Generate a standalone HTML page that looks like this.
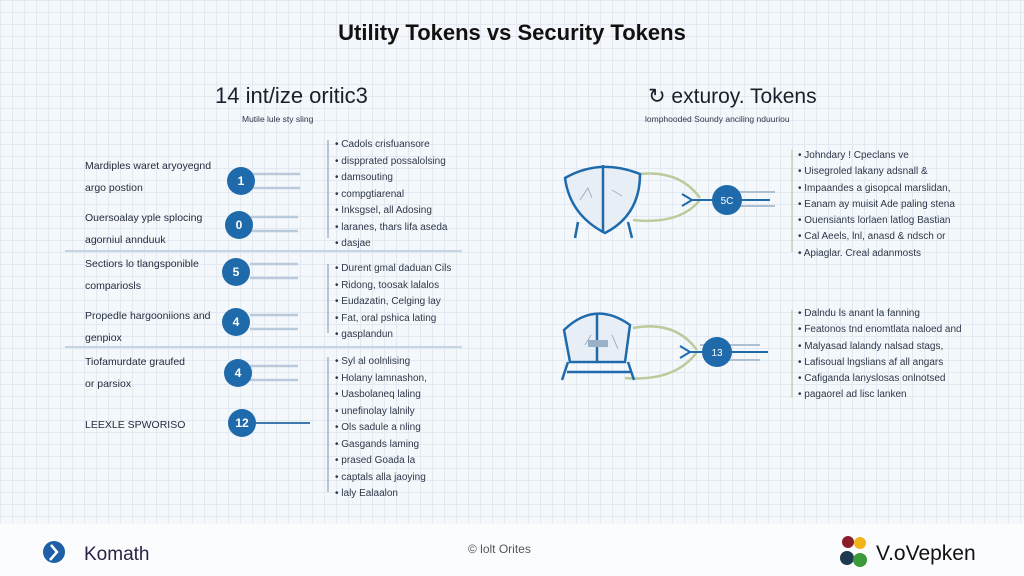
<!DOCTYPE html>
<html><head><meta charset="utf-8"><style>
*{margin:0;padding:0;box-sizing:border-box}
body{width:1024px;height:576px;overflow:hidden;font-family:"Liberation Sans",sans-serif;position:relative;
background-color:#f5f8fb;
background-image:linear-gradient(#e2e9f2 1px,transparent 1px),linear-gradient(90deg,#e2e9f2 1px,transparent 1px);
background-size:12px 12px}
.t{position:absolute;white-space:nowrap;color:#2a3140}
.s{font-size:10px;color:#2f3848}
.lab{font-size:10.5px;color:#242c3c;line-height:22px}
.foot{position:absolute;left:0;top:524px;width:1024px;height:52px;background:#fbfcfe}
</style></head><body>
<div class="t" style="left:0;width:1024px;text-align:center;top:20px;font-size:22px;font-weight:bold;color:#111">Utility Tokens vs Security Tokens</div>

<div class="t" style="left:215px;top:83px;font-size:22px;color:#1a1f2a">14 int/ize oritic3</div>
<div class="t s" style="left:242px;top:114px;font-size:8.5px">Mutile lule sty sling</div>

<div class="t" style="left:648px;top:84px;font-size:21px;color:#1a1f2a">&#x21BB; exturoy. Tokens</div>
<div class="t s" style="left:645px;top:114px;font-size:8.5px">lomphooded Soundy anciling nduuriou</div>

<div class="t lab" style="left:85px;top:155px">Mardiples waret aryoyegnd<br>argo postion</div>
<div class="t lab" style="left:85px;top:207px">Ouersoalay yple splocing<br>agorniul annduuk</div>
<div class="t lab" style="left:85px;top:253px">Sectiors lo tlangsponible<br>compariosls</div>
<div class="t lab" style="left:85px;top:305px">Propedle hargooniions and<br>genpiox</div>
<div class="t lab" style="left:85px;top:351px">Tiofamurdate graufed<br>or parsiox</div>
<div class="t lab" style="left:85px;top:414px">LEEXLE SPWORISO</div>

<svg style="position:absolute;left:0;top:0" width="1024" height="576">
<g stroke="#b6c9dc" stroke-width="1.5">
<line x1="65" y1="251" x2="462" y2="251"/><line x1="65" y1="347" x2="462" y2="347"/>
</g>
<g stroke="#8fa3b8" stroke-width="1.2">
<line x1="328" y1="140" x2="328" y2="238"/><line x1="328" y1="264" x2="328" y2="333"/><line x1="328" y1="357" x2="328" y2="492"/>
</g>
<g stroke="#b9cada" stroke-width="2.5">
<path d="M250 174h50M250 188h50M250 217h48M250 231h48M250 264h48M250 278h48M250 315h48M250 329h48M250 366h48M250 380h48"/>
<line x1="250" y1="423" x2="310" y2="423" stroke="#3f79ad" stroke-width="2"/>
</g>
<g fill="#1e6aab">
<circle cx="241" cy="181" r="14"/><circle cx="239" cy="225" r="14"/><circle cx="236" cy="272" r="14"/><circle cx="236" cy="322" r="14"/><circle cx="238" cy="373" r="14"/><circle cx="242" cy="423" r="14"/>
</g>
<g fill="#fff" font-size="12" font-weight="bold" text-anchor="middle" font-family="Liberation Sans">
<text x="241" y="185">1</text><text x="239" y="229">0</text><text x="236" y="276">5</text><text x="236" y="326">4</text><text x="238" y="377">4</text><text x="242" y="427">12</text>
</g>
<g stroke="#c2ccae" stroke-width="1.3">
<line x1="792" y1="150" x2="792" y2="252"/><line x1="792" y1="310" x2="792" y2="398"/>
</g>
<g fill="none" stroke="#bccb9c" stroke-width="2.5">
<path d="M640 174 Q680 170 700 198"/><path d="M633 220 Q680 225 700 200"/>
<path d="M633 328 Q675 320 697 350"/><path d="M625 378 Q675 382 697 352"/>
</g>
<g fill="none" stroke="#1e6aab" stroke-width="2.5">
<path d="M565 178 Q600 158 640 174 Q640 215 605 233 Q570 215 565 178Z" fill="#e8eef5"/>
<line x1="603" y1="165" x2="603" y2="233"/>
<path d="M578 222 L575 238 M628 222 L632 238"/>
<path d="M564 330 Q595 300 630 325 L625 362 L570 362Z" fill="#e8eef5"/>
<line x1="597" y1="315" x2="597" y2="362"/>
<path d="M568 362 L562 380 M628 362 L634 380 M567 372h64"/>
<rect x="588" y="340" width="20" height="7" fill="#9ab0c6" stroke="none"/>
</g>
<g stroke="#9fb2c6" stroke-width="1" fill="none">
<path d="M580 200l8-12 4 10M612 190l10 6M585 345l6-10M612 335l6 14"/>
</g>
<g stroke="#aebfd0" stroke-width="2">
<path d="M715 192h60M720 206h55M700 345h60M705 360h55"/>
</g>
<g stroke="#1e6aab" stroke-width="2" fill="none">
<path d="M690 200h80M682 194l10 6-10 6M688 352h80M680 346l10 6-10 6"/>
</g>
<circle cx="727" cy="200" r="15" fill="#1e6aab"/><circle cx="717" cy="352" r="15" fill="#1e6aab"/>
<text x="727" y="204" fill="#fff" font-size="10" text-anchor="middle" font-family="Liberation Sans">5C</text>
<text x="717" y="356" fill="#fff" font-size="10" text-anchor="middle" font-family="Liberation Sans">13</text>
</svg>

<div class="t s" style="left:335px;top:137px;line-height:16.5px">• Cadols crisfuansore<br>• dispprated possalolsing<br>• damsouting<br>• compgtiarenal<br>• Inksgsel, all Adosing<br>• laranes, thars lifa aseda<br>• dasjae</div>
<div class="t s" style="left:335px;top:261px;line-height:16.5px">• Durent gmal daduan Cils<br>• Ridong, toosak lalalos<br>• Eudazatin, Celging lay<br>• Fat, oral pshica lating<br>• gasplandun</div>
<div class="t s" style="left:335px;top:354px;line-height:16.5px">• Syl al oolnlising<br>• Holany lamnashon,<br>• Uasbolaneq laling<br>• unefinolay lalnily<br>• Ols sadule a nling<br>• Gasgands laming<br>• prased Goada la<br>• captals alla jaoying<br>• laly Ealaalon</div>

<div class="t s" style="left:798px;top:148px;line-height:16.3px">• Johndary ! Cpeclans ve<br>• Uisegroled lakany adsnall &amp;<br>• Impaandes a gisopcal marslidan,<br>• Eanam ay muisit Ade paling stena<br>• Ouensiants lorlaen latlog Bastian<br>• Cal Aeels, lnl, anasd &amp; ndsch or<br>• Apiaglar. Creal adanmosts</div>
<div class="t s" style="left:798px;top:306px;line-height:16.3px">• Dalndu ls anant la fanning<br>• Featonos tnd enomtlata naloed and<br>• Malyasad lalandy nalsad stags,<br>• Lafisoual lngslians af all angars<br>• Cafiganda lanyslosas onlnotsed<br>• pagaorel ad lisc lanken</div>

<div class="foot">
<svg style="position:absolute;left:42px;top:16px" width="28" height="28"><circle cx="12" cy="12" r="11" fill="#1e5fa8"/><path d="M9 5 L15 12 L8 20" stroke="#fff" stroke-width="2.5" fill="none"/></svg>
<div class="t" style="left:84px;top:20px;font-size:19px;color:#2a2345">Komath</div>
<div class="t" style="left:468px;top:18px;font-size:12px;color:#555">© lolt Orites</div>
<svg style="position:absolute;left:838px;top:10px" width="34" height="36"><circle cx="10" cy="8" r="6" fill="#8a1d2a"/><circle cx="22" cy="9" r="6" fill="#f2b31b"/><circle cx="9" cy="24" r="7" fill="#1d3a4e"/><circle cx="22" cy="26" r="7" fill="#3d9a3a"/></svg>
<div class="t" style="left:876px;top:18px;font-size:21px;color:#111">V.oVepken</div>
</div>
</body></html>
